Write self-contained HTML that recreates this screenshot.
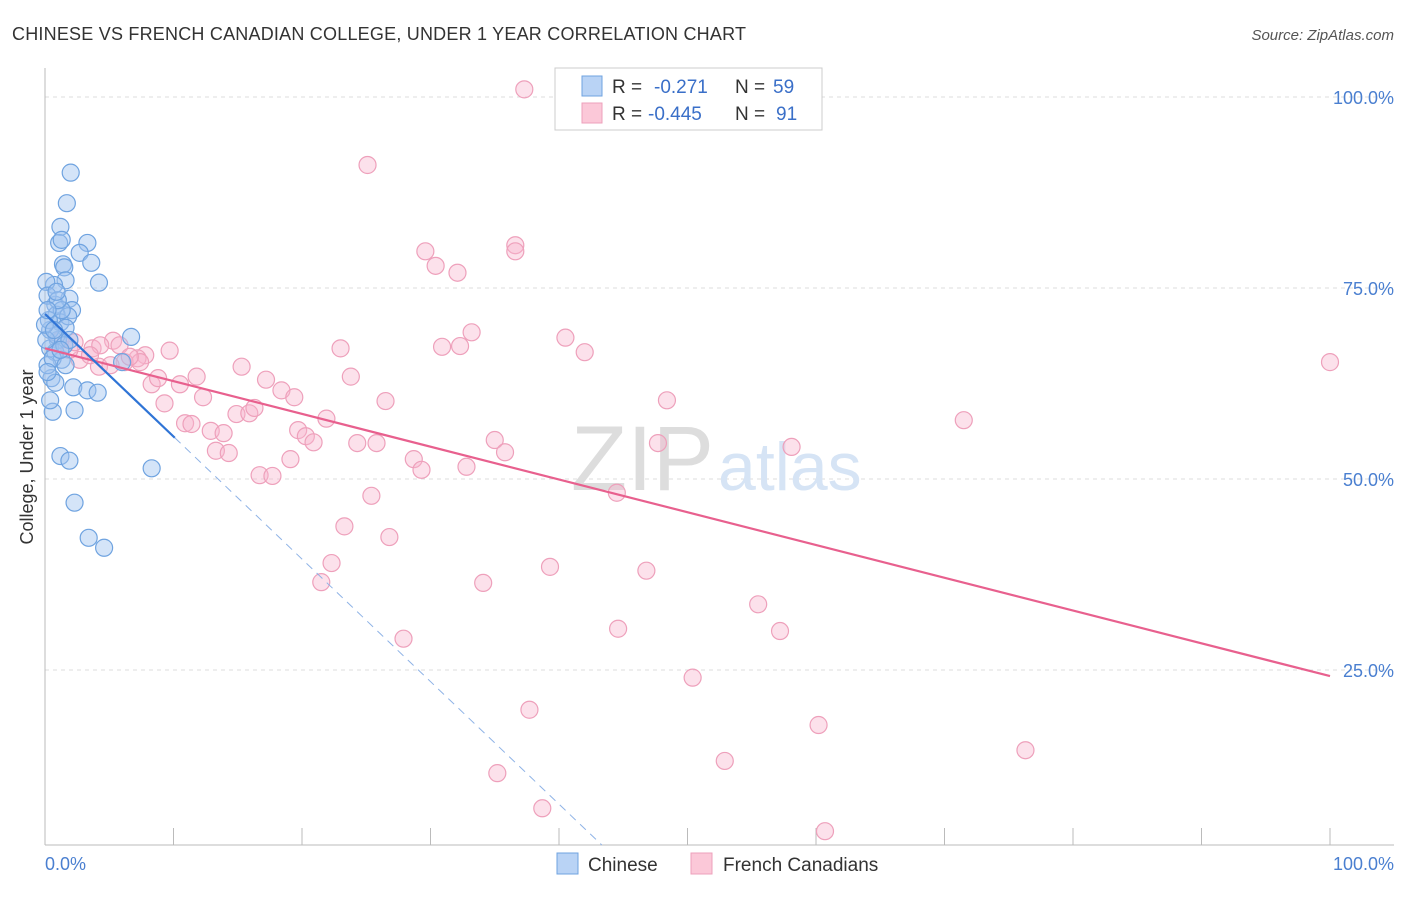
<!DOCTYPE html>
<html><head><meta charset="utf-8"><style>
body{margin:0;background:#fff;font-family:"Liberation Sans",sans-serif}
svg text{font-family:"Liberation Sans",sans-serif}
</style></head><body>
<svg width="1406" height="892">
<text x="12" y="40" font-size="18" fill="#333" textLength="734">CHINESE VS FRENCH CANADIAN COLLEGE, UNDER 1 YEAR CORRELATION CHART</text>
<text x="1394" y="40" font-size="15" fill="#555" text-anchor="end" font-style="italic">Source: ZipAtlas.com</text>
<g id="grid"></g>
<text x="714" y="490" font-size="92" fill="#ddd" text-anchor="end" font-family="Liberation Serif">ZIP</text>
<text x="718" y="490" font-size="68" fill="#d6e4f5">atlas</text>
<g id="axes"></g>
<g id="pts"></g>
<g id="lines"></g>
<text x="33" y="457" font-size="18" fill="#333" text-anchor="middle" transform="rotate(-90 33 457)">College, Under 1 year</text>
<text x="45" y="870" font-size="18" fill="#4a7fd0">0.0%</text>
<text x="1394" y="870" font-size="18" fill="#4a7fd0" text-anchor="end">100.0%</text>
<g>
<rect x="555" y="68" width="267" height="62" fill="#fff" stroke="#ccc"/>
<rect x="582" y="76" width="20" height="20" fill="#b9d3f5" stroke="#6fa3e0"/>
<rect x="582" y="103" width="20" height="20" fill="#fbc8d8" stroke="#eea0bb"/>
<text x="612" y="93" font-size="19" fill="#333">R =</text>
<text x="654" y="93" font-size="19" fill="#3a6fc8">-0.271</text>
<text x="735" y="93" font-size="19" fill="#333">N =</text>
<text x="773" y="93" font-size="19" fill="#3a6fc8">59</text>
<text x="612" y="120" font-size="19" fill="#333">R =</text>
<text x="648" y="120" font-size="19" fill="#3a6fc8">-0.445</text>
<text x="735" y="120" font-size="19" fill="#333">N =</text>
<text x="776" y="120" font-size="19" fill="#3a6fc8">91</text>
</g>
<g>
<rect x="557" y="853" width="21" height="21" fill="#b9d3f5" stroke="#6fa3e0"/>
<text x="588" y="871" font-size="19" fill="#333">Chinese</text>
<rect x="691" y="853" width="21" height="21" fill="#fbc8d8" stroke="#eea0bb"/>
<text x="723" y="871" font-size="19" fill="#333">French Canadians</text>
</g>
</svg>
<script>
const yTicks=[100,75,50,25];
const yTickLabels=["100.0%","75.0%","50.0%","25.0%"];
const xTicks=[10,20,30,40,50,60,70,80,90,100];
const chineseX=[2.0,1.7,1.2,1.1,3.3,1.3,2.7,1.4,3.6,1.5,1.6,4.2,0.7,0.1,0.8,1.9,2.1,0.2,0.9,1.2,1.8,1.6,1.0,6.7,0.4,0.8,1.3,6.0,0.5,0.8,2.2,3.3,4.1,0.6,2.3,1.2,1.9,8.3,2.3,3.4,4.6,0.4,0.2,0.9,1.5,1.9,0.6,0.3,0.1,1.3,0.0,1.0,0.4,1.6,0.2,0.7,1.2,0.2,0.9];
const chineseY=[90.1,86.1,83.0,80.9,80.9,81.3,79.6,78.1,78.3,77.7,76.0,75.7,75.4,75.8,72.8,73.6,72.1,74.0,71.5,70.5,71.3,69.8,68.2,68.6,67.1,66.6,65.6,65.3,63.2,62.6,62.0,61.6,61.3,58.8,59.0,53.0,52.4,51.4,46.9,42.3,41.0,69.5,64.9,68.8,67.5,68.2,65.8,70.8,68.2,72.1,70.2,73.4,60.3,64.9,64.0,69.5,66.9,72.1,74.5];
const frenchX=[37.3,25.1,36.6,36.6,29.6,30.4,32.1,33.2,30.9,32.3,40.5,42.0,23.0,100,5.3,3.7,5.8,7.8,7.2,9.7,4.2,6.2,7.4,8.3,8.8,10.5,11.8,15.3,17.2,18.4,19.4,12.3,9.3,23.8,26.5,14.9,15.9,16.3,21.9,48.4,71.5,10.9,11.4,12.9,13.9,19.7,20.3,20.9,24.3,25.8,13.3,14.3,19.1,28.7,29.3,32.8,35.0,35.8,47.7,58.1,16.7,17.7,25.4,44.5,23.3,26.8,22.3,21.5,39.3,34.1,46.8,55.5,57.2,44.6,27.9,50.4,37.7,60.2,76.3,52.9,35.2,38.7,60.7,4.3,2.7,1.9,1.2,6.6,3.5,5.1,2.3];
const frenchY=[101.0,91.1,80.6,79.8,79.8,77.9,77.0,69.2,67.3,67.4,68.5,66.6,67.1,65.3,68.1,67.1,67.5,66.2,65.8,66.8,64.7,65.3,65.3,62.4,63.2,62.4,63.4,64.7,63.0,61.6,60.7,60.7,59.9,63.4,60.2,58.5,58.6,59.3,57.9,60.3,57.7,57.3,57.2,56.3,56.0,56.4,55.6,54.8,54.7,54.7,53.7,53.4,52.6,52.6,51.2,51.6,55.1,53.5,54.7,54.2,50.5,50.4,47.8,48.2,43.8,42.4,39.0,36.5,38.5,36.4,38.0,33.6,30.1,30.4,29.1,24.0,19.8,17.8,14.5,13.1,11.5,6.9,3.9,67.5,65.6,66.9,68.2,66.0,66.2,64.9,67.9];
const chineseTrend=[71.6,-1.604];
const frenchTrend=[67.1,-0.429];
const NS='http://www.w3.org/2000/svg';
const X=v=>45+v*12.85, Y=v=>861-v*7.64;
function mk(tag,attrs,parent){const e=document.createElementNS(NS,tag);for(const k in attrs)e.setAttribute(k,attrs[k]);parent.appendChild(e);return e;}
const grid=document.getElementById('grid'),axes=document.getElementById('axes'),pts=document.getElementById('pts'),lines=document.getElementById('lines');
yTicks.forEach((t,i)=>{
 const l=mk('line',{x1:45,x2:1394,y1:Y(t),y2:Y(t),stroke:'#ddd','stroke-dasharray':'4,4'},grid);
 
 
 const tx=mk('text',{x:1394,y:Y(t)+7,'font-size':18,fill:'#4a7fd0','text-anchor':'end'},grid);
 tx.textContent=yTickLabels[i];
 
 
});
mk('line',{x1:45,x2:45,y1:68,y2:845,stroke:'#bbb'},axes);
mk('line',{x1:45,x2:1394,y1:845,y2:845,stroke:'#bbb'},axes);
xTicks.forEach(t=>{
 const l=mk('line',{x1:X(t),x2:X(t),y1:828,y2:845,stroke:'#bbb'},axes);
 
 
});
function dots(xs,ys,fill,stroke,name){xs.forEach((x,i)=>{
 const c=mk('circle',{cx:X(x),cy:Y(ys[i]),r:8.5,fill:fill,stroke:stroke,'stroke-width':1.2},pts);
 
 
});}
dots(frenchX,frenchY,'rgba(248,180,205,0.4)','#eea0bb','french-canadian-point');
dots(chineseX,chineseY,'rgba(160,196,240,0.45)','#6fa3e0','chinese-point');
const fy=x=>frenchTrend[0]+frenchTrend[1]*x, cy=x=>chineseTrend[0]+chineseTrend[1]*x;
const fl=mk('line',{x1:X(0),y1:Y(fy(0)),x2:X(100),y2:Y(fy(100)),stroke:'#e8608e','stroke-width':2.2},lines);


const cl=mk('line',{x1:X(0),y1:Y(cy(0)),x2:X(10.1),y2:Y(cy(10.1)),stroke:'#2f74d6','stroke-width':2.2},lines);


const xe=(Y(0)-16-861)/-7.64; const xend=(xe-chineseTrend[0])/chineseTrend[1];
const cd=mk('line',{x1:X(10.1),y1:Y(cy(10.1)),x2:X(xend),y2:Y(cy(xend)),stroke:'#8fb3e6','stroke-width':1,'stroke-dasharray':'8,6'},lines);


</script>
</body></html>
